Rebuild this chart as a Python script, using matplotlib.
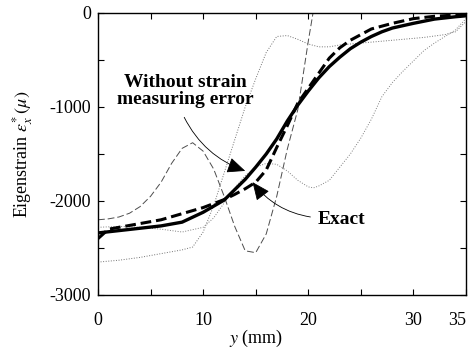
import matplotlib
matplotlib.use("Agg")
import matplotlib.pyplot as plt

# --- données ---
# sans erreur de mesure (trait plein épais)
x_solid = [0, 2, 4, 6, 8, 10, 12, 13, 14, 15, 16, 17, 18, 19, 20, 21, 22, 23, 24, 25, 26, 27, 28, 30, 32, 34, 35]
y_solid = [-2340, -2315, -2290, -2265, -2225, -2120, -1990, -1880, -1770, -1640, -1500, -1340, -1150, -980,
           -830, -690, -570, -470, -380, -310, -250, -200, -160, -110, -65, -40, -30]

# exact (tirets épais)
x_exact = [0, 1, 2, 4, 6, 8, 10, 12, 13, 14, 15, 16, 17, 18, 19, 20, 21, 22, 23, 24, 25, 26, 28, 30, 32, 35]
y_exact = [-2400, -2300, -2280, -2240, -2200, -2135, -2070, -1985, -1930, -1870, -1800, -1670, -1430, -1200,
           -960, -800, -640, -480, -370, -290, -230, -170, -110, -60, -35, -15]

# courbes bruitées (traits fins)
x_noise1 = [0, 1, 2, 3, 4, 5, 6, 7, 8, 9, 10, 11, 12, 13, 14, 15, 16, 17, 18, 19, 20, 20.6]
y_noise1 = [-2200, -2190, -2170, -2130, -2060, -1950, -1800, -1600, -1440, -1380, -1470, -1660, -1950, -2270,
            -2530, -2550, -2350, -1950, -1450, -1030, -300, 100]

x_noise2 = [0, 2, 4, 6, 8, 9, 10, 11, 12, 13, 14, 15, 16, 17, 18, 19, 20, 21, 22, 23, 25, 27, 29, 31, 33, 34, 35]
y_noise2 = [-2650, -2630, -2600, -2560, -2520, -2490, -2330, -2050, -1700, -1350, -1000, -700, -420, -250, -240,
            -280, -330, -360, -360, -340, -320, -300, -280, -260, -230, -200, -90]

x_noise3 = [0, 2, 4, 6, 8, 10, 11, 12, 13, 14, 15, 16, 17, 18, 19, 20, 20.5, 21, 22, 23, 24, 25, 26, 27, 28, 29,
            30, 31, 32, 33, 34, 35]
y_noise3 = [-2280, -2270, -2280, -2300, -2330, -2280, -2180, -2020, -1860, -1730, -1640, -1600, -1610, -1680,
            -1780, -1850, -1860, -1840, -1780, -1640, -1500, -1330, -1130, -890, -740, -620, -510, -400, -320,
            -250, -180, -60]

x_ticks = [0, 5, 10, 15, 20, 25, 30, 35]
x_labels = ["0", "", "10", "", "20", "", "30", "35"]
y_ticks = [-3000, -2500, -2000, -1500, -1000, -500, 0]
y_labels = ["-3000", "", "-2000", "", "-1000", "", "0"]

plt.rcParams["font.family"] = "Liberation Serif"
plt.rcParams["mathtext.fontset"] = "stix"

fig = plt.figure(figsize=(4.73, 3.54), dpi=100)
ax = fig.add_axes([0.2072, 0.1667, 0.778, 0.7966])

ax.plot(x_noise1, y_noise1, color="0.3", lw=0.7, dashes=(7, 3))
ax.plot(x_noise2, y_noise2, color="0.45", lw=0.7, ls=":")
ax.plot(x_noise3, y_noise3, color="0.5", lw=0.7, ls=":")
ax.plot(x_exact, y_exact, color="k", lw=2.2, dashes=(3.5, 1.6))
ax.plot(x_solid, y_solid, color="k", lw=2.4)

ax.set_xlim(0, 35)
ax.set_ylim(-3000, 0)
ax.set_xticks(x_ticks)
ax.set_xticklabels(x_labels)
ax.set_yticks(y_ticks)
ax.set_yticklabels(y_labels)
ax.tick_params(direction="in", length=4, width=0.8, top=True, right=True, labelsize=13, pad=5)
ax.tick_params(axis="x", pad=12)
ax.get_xticklabels()[-1].set_horizontalalignment("right")
for s in ax.spines.values():
    s.set_linewidth(1.0)

ax.set_xlabel(r"$y$ (mm)", fontsize=13)
ax.xaxis.set_label_coords(0.43, -0.115)
ax.set_ylabel(r"Eigenstrain $\varepsilon^{*}_{x}\,(\mu)$", fontsize=13)
ax.yaxis.set_label_coords(-0.17, 0.5)

ax.text(8.3, -830, "Without strain\nmeasuring error", ha="center", va="center",
        fontsize=14, fontweight="bold", linespacing=0.95)
ax.text(23.15, -2200, "Exact", ha="center", va="center", fontsize=14, fontweight="bold")

arr = dict(arrowstyle="-|>,head_length=0.8,head_width=0.35", color="k", lw=0.6,
           mutation_scale=14, shrinkA=0, shrinkB=0)
ax.annotate("", xy=(14.0, -1680), xytext=(8.2, -1110),
            arrowprops=dict(arr, connectionstyle="arc3,rad=0.2"))
ax.annotate("", xy=(14.7, -1800), xytext=(20.2, -2170),
            arrowprops=dict(arr, connectionstyle="arc3,rad=-0.2"))

fig.savefig("out.png", dpi=100)
